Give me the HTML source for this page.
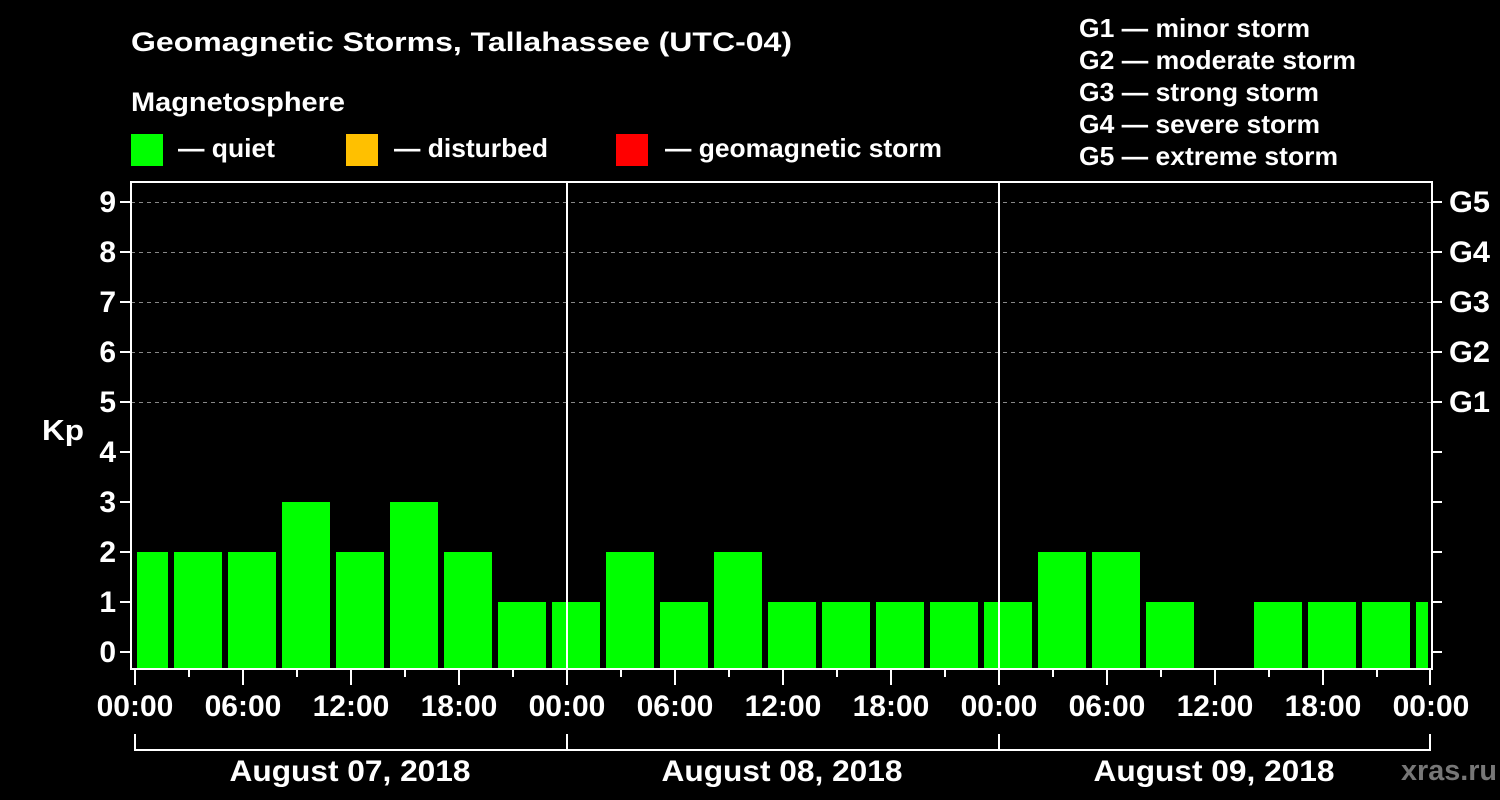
<!DOCTYPE html>
<html><head><style>body{margin:0;background:#000}svg{display:block}text{font-family:"Liberation Sans",sans-serif;font-weight:bold;fill:#fff}</style></head>
<body>
<svg width="1500" height="800" viewBox="0 0 1500 800" xmlns="http://www.w3.org/2000/svg">
<rect width="1500" height="800" fill="#000"/>
<text x="131" y="51" font-size="27" textLength="661" lengthAdjust="spacingAndGlyphs">Geomagnetic Storms, Tallahassee (UTC-04)</text>
<text x="131" y="111" font-size="27" textLength="214" lengthAdjust="spacingAndGlyphs">Magnetosphere</text>
<rect x="131" y="134" width="32" height="32" fill="#00ff00"/>
<text x="178" y="157" font-size="26" textLength="97" lengthAdjust="spacingAndGlyphs">— quiet</text>
<rect x="346" y="134" width="32" height="32" fill="#ffc000"/>
<text x="394" y="157" font-size="26" textLength="154" lengthAdjust="spacingAndGlyphs">— disturbed</text>
<rect x="616" y="134" width="32" height="32" fill="#ff0000"/>
<text x="665" y="157" font-size="26" textLength="277" lengthAdjust="spacingAndGlyphs">— geomagnetic storm</text>
<g font-size="26">
<text x="1079" y="37" textLength="231" lengthAdjust="spacingAndGlyphs">G1 — minor storm</text>
<text x="1079" y="69" textLength="277" lengthAdjust="spacingAndGlyphs">G2 — moderate storm</text>
<text x="1079" y="101" textLength="240" lengthAdjust="spacingAndGlyphs">G3 — strong storm</text>
<text x="1079" y="133" textLength="241" lengthAdjust="spacingAndGlyphs">G4 — severe storm</text>
<text x="1079" y="165" textLength="259" lengthAdjust="spacingAndGlyphs">G5 — extreme storm</text>
</g>
<g stroke="#888" stroke-dasharray="4,4" stroke-width="1">
<line x1="131" x2="1432" y1="202.5" y2="202.5"/><line x1="131" x2="1432" y1="252.5" y2="252.5"/>
<line x1="131" x2="1432" y1="302.5" y2="302.5"/><line x1="131" x2="1432" y1="352.5" y2="352.5"/>
<line x1="131" x2="1432" y1="402.5" y2="402.5"/>
</g>
<g fill="#00ff00">
<rect x="137" y="552" width="31" height="116"/>
<rect x="174" y="552" width="48" height="116"/>
<rect x="228" y="552" width="48" height="116"/>
<rect x="282" y="502" width="48" height="166"/>
<rect x="336" y="552" width="48" height="116"/>
<rect x="390" y="502" width="48" height="166"/>
<rect x="444" y="552" width="48" height="116"/>
<rect x="498" y="602" width="48" height="66"/>
<rect x="552" y="602" width="48" height="66"/>
<rect x="606" y="552" width="48" height="116"/>
<rect x="660" y="602" width="48" height="66"/>
<rect x="714" y="552" width="48" height="116"/>
<rect x="768" y="602" width="48" height="66"/>
<rect x="822" y="602" width="48" height="66"/>
<rect x="876" y="602" width="48" height="66"/>
<rect x="930" y="602" width="48" height="66"/>
<rect x="984" y="602" width="48" height="66"/>
<rect x="1038" y="552" width="48" height="116"/>
<rect x="1092" y="552" width="48" height="116"/>
<rect x="1146" y="602" width="48" height="66"/>
<rect x="1254" y="602" width="48" height="66"/>
<rect x="1308" y="602" width="48" height="66"/>
<rect x="1362" y="602" width="48" height="66"/>
<rect x="1416" y="602" width="12" height="66"/>
</g>
<g stroke="#fff" stroke-width="2" fill="none">
<rect x="131" y="182" width="1301" height="487"/>
<line x1="567" x2="567" y1="182" y2="669"/><line x1="999" x2="999" y1="182" y2="669"/>
<path d="M120 202H131M120 252H131M120 302H131M120 352H131M120 402H131M120 452H131M120 502H131M120 552H131M120 602H131M120 652H131"/>
<path d="M1432 202H1442M1432 252H1442M1432 302H1442M1432 352H1442M1432 402H1442M1432 452H1442M1432 502H1442M1432 552H1442M1432 602H1442M1432 652H1442"/>
<path d="M135 669V685M189 669V677M243 669V685M297 669V677M351 669V685M405 669V677M459 669V685M513 669V677M567 669V685M621 669V677M675 669V685M729 669V677M783 669V685M837 669V677M891 669V685M945 669V677M999 669V685M1053 669V677M1107 669V685M1161 669V677M1215 669V685M1269 669V677M1323 669V685M1377 669V677M1430 669V685"/>
<path d="M135 734V750H1430V734M567 734V750M999 734V750"/>
</g>
<g font-size="30" text-anchor="end">
<text x="116" y="212">9</text><text x="116" y="262">8</text><text x="116" y="312">7</text><text x="116" y="362">6</text><text x="116" y="412">5</text><text x="116" y="462">4</text><text x="116" y="512">3</text><text x="116" y="562">2</text><text x="116" y="612">1</text><text x="116" y="662">0</text>
</g>
<text x="42" y="440" font-size="29" textLength="42" lengthAdjust="spacingAndGlyphs">Kp</text>
<g font-size="30">
<text x="1449" y="212" textLength="41" lengthAdjust="spacingAndGlyphs">G5</text><text x="1449" y="262" textLength="41" lengthAdjust="spacingAndGlyphs">G4</text><text x="1449" y="312" textLength="41" lengthAdjust="spacingAndGlyphs">G3</text><text x="1449" y="362" textLength="41" lengthAdjust="spacingAndGlyphs">G2</text><text x="1449" y="412" textLength="41" lengthAdjust="spacingAndGlyphs">G1</text>
</g>
<g font-size="30" text-anchor="middle">
<text x="135" y="716">00:00</text><text x="243" y="716">06:00</text><text x="351" y="716">12:00</text><text x="459" y="716">18:00</text>
<text x="567" y="716">00:00</text><text x="675" y="716">06:00</text><text x="783" y="716">12:00</text><text x="891" y="716">18:00</text>
<text x="999" y="716">00:00</text><text x="1107" y="716">06:00</text><text x="1215" y="716">12:00</text><text x="1323" y="716">18:00</text>
<text x="1431" y="716">00:00</text>
<text x="350" y="781" textLength="241" lengthAdjust="spacingAndGlyphs">August 07, 2018</text>
<text x="782" y="781" textLength="241" lengthAdjust="spacingAndGlyphs">August 08, 2018</text>
<text x="1214" y="781" textLength="241" lengthAdjust="spacingAndGlyphs">August 09, 2018</text>
</g>
<text x="1401" y="780" font-size="29" style="fill:#777" textLength="96" lengthAdjust="spacingAndGlyphs">xras.ru</text>
</svg>
</body></html>
